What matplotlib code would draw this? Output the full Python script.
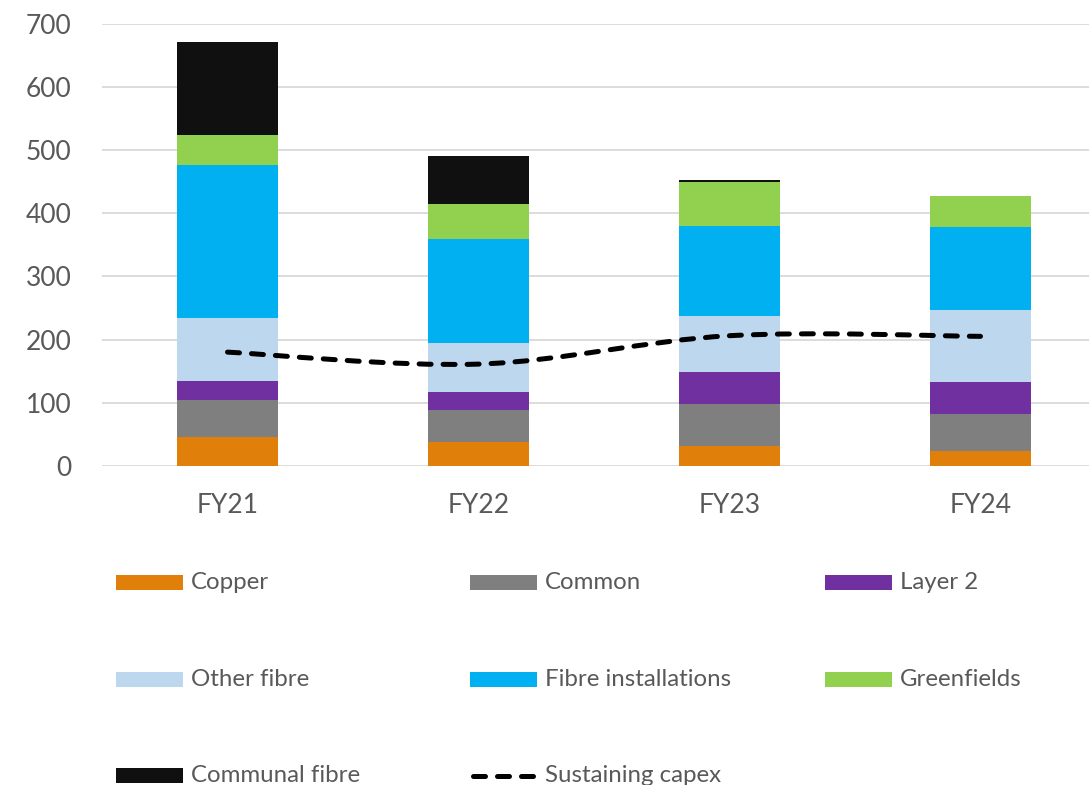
import matplotlib.pyplot as plt
import matplotlib.patches as mpatches
from matplotlib.path import Path
from matplotlib.lines import Line2D
import numpy as np

plt.rcParams["font.family"] = ["Lato", "DejaVu Sans"]

years = ["FY21", "FY22", "FY23", "FY24"]

# capex components, stacked bottom to top
copper = [45, 37, 32, 23]
common = [59, 51, 66, 59]
layer2 = [31, 29, 51, 50]
other_fibre = [99, 78, 89, 115]
fibre_installs = [243, 165, 142, 131]
greenfields = [47, 54, 69, 50]
communal_fibre = [147, 77, 4, 0]

sustaining_capex = [180, 161, 206, 205]

series = [
    ("Copper", copper, "#E0800A"),
    ("Common", common, "#7F7F7F"),
    ("Layer 2", layer2, "#7030A0"),
    ("Other fibre", other_fibre, "#BDD7EE"),
    ("Fibre installations", fibre_installs, "#00B0F0"),
    ("Greenfields", greenfields, "#92D050"),
    ("Communal fibre", communal_fibre, "#101010"),
]

TXT = "#595959"
GRID = "#D9D9D9"

W, H = 1089, 785
fig = plt.figure(figsize=(W / 100, H / 100), dpi=100)
ax = fig.add_axes([102 / W, 319.3 / H, 1004 / W, 441.7 / H])

x = np.arange(len(years))
bottom = np.zeros(len(years))
for name, vals, col in series:
    ax.bar(x, vals, width=0.4, bottom=bottom, color=col, zorder=2)
    bottom += np.array(vals)


def smooth_path(xs, ys):
    # Bezier segments through every point (cardinal spline, tension 1/6)
    pts = list(zip(xs, ys))
    verts = [pts[0]]
    codes = [Path.MOVETO]
    for i in range(len(pts) - 1):
        p0 = np.array(pts[max(i - 1, 0)])
        p1 = np.array(pts[i])
        p2 = np.array(pts[i + 1])
        p3 = np.array(pts[min(i + 2, len(pts) - 1)])
        c1 = p1 + (p2 - p0) / 6
        c2 = p2 - (p3 - p1) / 6
        verts += [tuple(c1), tuple(c2), tuple(p2)]
        codes += [Path.CURVE4] * 3
    return Path(verts, codes)


line = mpatches.PathPatch(
    smooth_path(x, sustaining_capex), fill=False, edgecolor="black",
    linewidth=3.6, linestyle=(0, (2.4, 2.4)), capstyle="round", zorder=3,
)
ax.add_patch(line)

ax.set_xlim(-0.5, 3.5)
ax.set_ylim(0, 700)
ax.set_yticks(range(0, 701, 100))
ax.set_xticks(x)
ax.set_xticklabels(years)
ax.yaxis.grid(True, color=GRID, linewidth=1.3, zorder=0)
ax.set_axisbelow(True)
for s in ax.spines.values():
    s.set_visible(False)
ax.tick_params(axis="y", length=0, pad=22, labelsize=19, labelcolor=TXT)
ax.tick_params(axis="x", length=0, pad=20, labelsize=19, labelcolor=TXT)

# legend laid out in a fixed 3-column grid
col_x = [116, 470, 825]
row_y = [582.5, 679, 775.5]
entries = [(n, c) for n, _, c in series] + [("Sustaining capex", None)]
for i, (name, col) in enumerate(entries):
    px = col_x[i % 3]
    py = row_y[i // 3]
    if col is not None:
        fig.patches.append(mpatches.Rectangle(
            (px / W, 1 - (py + 7.5) / H), 67 / W, 15 / H,
            transform=fig.transFigure, facecolor=col, edgecolor="none"))
    else:
        fig.lines.append(Line2D(
            [(px + 3) / W, (px + 64) / W], [1 - py / H, 1 - py / H],
            transform=fig.transFigure, color="black", linewidth=3.6,
            linestyle=(0, (2.4, 2.4)), dash_capstyle="round"))
    fig.text((px + 75) / W, 1 - py / H, name, fontsize=17.3, color=TXT,
             va="center", ha="left")

fig.savefig("out.png", dpi=100)
